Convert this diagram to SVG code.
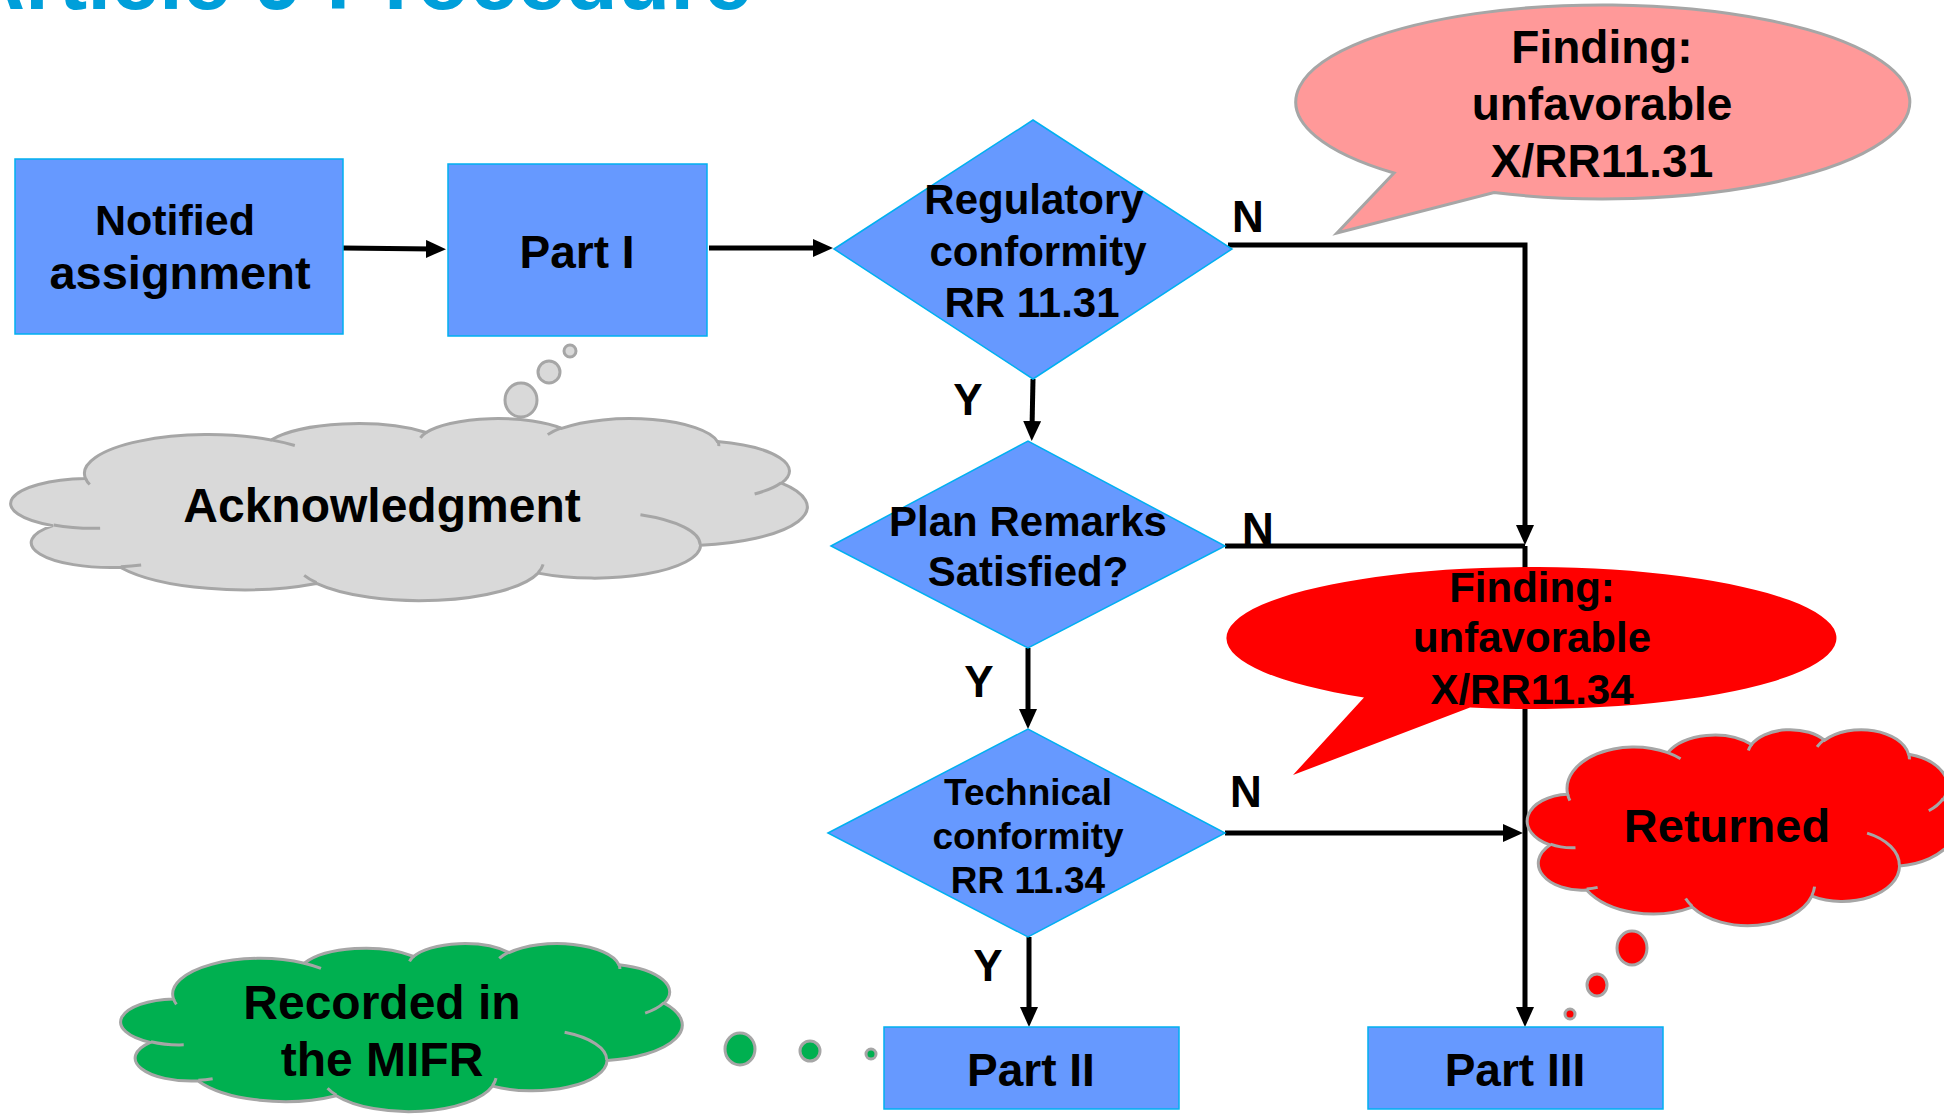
<svg xmlns="http://www.w3.org/2000/svg" width="1944" height="1118" viewBox="0 0 1944 1118">
<style>
.t{font-family:"Liberation Sans",Arial,sans-serif;font-weight:bold;fill:#000;text-anchor:middle}
.title{font-family:"Liberation Sans",Arial,sans-serif;font-weight:bold;fill:#009FDA;font-size:86px}
.box{fill:#6699FF;stroke:#00B0F0;stroke-width:1.5}
.con{fill:none;stroke:#000;stroke-width:5}
.arr{marker-end:url(#ah)}
.cg{fill:#D9D9D9;stroke:#A6A6A6;stroke-width:3}
.cr{fill:#FF0000;stroke:#A6A6A6;stroke-width:3}
.cgr{fill:#00B050;stroke:#A6A6A6;stroke-width:3}
.inner{fill:none;stroke:#A6A6A6;stroke-width:3}
.pink{fill:#FF9999;stroke:#A6A6A6;stroke-width:3}
.red{fill:#FF0000;stroke:none}
</style>
<defs>
<marker id="ah" markerUnits="userSpaceOnUse" markerWidth="20" markerHeight="18" refX="7" refY="9" orient="auto">
<path d="M0,0 L20,9 L0,18 Z" fill="#000"/>
</marker>
<path id="cloudOut" vector-effect="non-scaling-stroke" d="M3900 14370 A6753 9190 0 0 1 14005.6 5202.5 A5333 7267 0 0 1 22456.7 3432.4 A4365 5945 0 0 1 29833.8 2481.6 A4857 6595 0 0 1 38319 5576.8 A5333 7273 0 0 1 41818.5 15460.2 A6775 9220 0 0 1 37404.8 30203.9 A5785 7867 0 0 1 28556.3 36814.1 A6752 9215 0 0 1 16481 39266 A7720 10543 0 0 1 5807.1 35471.8 A4360 5918 0 0 1 2116 25550 A4345 5945 0 0 1 3900 14370 Z"/>
<path id="cloudIn" vector-effect="non-scaling-stroke" d="M4693 26177 A4345 5945 0 0 1 2159.6 25379.9 M6928 34899 A4360 5918 0 0 1 5819.5 35280.5 M16478 39090 A6752 9215 0 0 1 15809.6 37348.1 M28827 34751 A6752 9215 0 0 1 28560.4 36660 M34129 22954 A5785 7867 0 0 1 37380.7 30089.8 M41798 15354 A5333 7273 0 0 1 40350.4 18029.5 M38324 5426 A4857 6595 0 0 1 38400.4 6689.6 M29078 3952 A4857 6595 0 0 1 29819.6 2340.5 M22141 4720 A4365 5945 0 0 1 22500.3 3329.7 M14000 5192 A6753 9190 0 0 1 15299.6 6540.5 M4127 15789 A6753 9190 0 0 1 3900.2 14369.7"/>
</defs>
<rect width="1944" height="1118" fill="#fff"/>
<text class="title" x="-37" y="9">Article 9 Procedure</text>

<g id="connectors">
<line class="con arr" x1="343" y1="248" x2="433" y2="249"/>
<line class="con arr" x1="709" y1="248" x2="820" y2="248"/>
<polyline class="con arr" points="1228,245 1525,245 1525,532"/>
<line class="con arr" x1="1033" y1="379" x2="1032" y2="428"/>
<line class="con" x1="1225" y1="546" x2="1525" y2="546"/>
<line class="con arr" x1="1028" y1="648" x2="1028" y2="716"/>
<line class="con arr" x1="1525" y1="546" x2="1525" y2="1014"/>
<line class="con arr" x1="1225" y1="833" x2="1510" y2="833"/>
<line class="con arr" x1="1029" y1="937" x2="1029" y2="1014"/>
<text class="t" x="1248" y="232" font-size="44">N</text>
<text class="t" x="968" y="415" font-size="44">Y</text>
<text class="t" x="1258" y="544" font-size="44">N</text>
<text class="t" x="979" y="697" font-size="44">Y</text>
<text class="t" x="1246" y="807" font-size="44">N</text>
<text class="t" x="988" y="981" font-size="44">Y</text>
</g>

<g id="notified">
<rect class="box" x="15" y="159" width="328" height="175"/>
<text class="t" x="175" y="235" font-size="43">Notified</text>
<text class="t" x="180" y="289" font-size="47">assignment</text>
</g>
<g id="part1">
<rect class="box" x="448" y="164" width="259" height="172"/>
<text class="t" x="577" y="268" font-size="46">Part I</text>
</g>
<g id="regulatory">
<polygon class="box" points="834,249 1033,120 1232,249 1033,379"/>
<text class="t" x="1034" y="214" font-size="42">Regulatory</text>
<text class="t" x="1038" y="266" font-size="42">conformity</text>
<text class="t" x="1032" y="317" font-size="42">RR 11.31</text>
</g>
<g id="planremarks">
<polygon class="box" points="831,546 1028,441 1225,546 1028,648"/>
<text class="t" x="1028" y="536" font-size="42">Plan Remarks</text>
<text class="t" x="1028" y="586" font-size="42">Satisfied?</text>
</g>
<g id="technical">
<polygon class="box" points="828,833 1028,729 1225,833 1028,937"/>
<text class="t" x="1028" y="805" font-size="37">Technical</text>
<text class="t" x="1028" y="849" font-size="37">conformity</text>
<text class="t" x="1028" y="893" font-size="37">RR 11.34</text>
</g>
<g id="part2">
<rect class="box" x="884" y="1027" width="295" height="82"/>
<text class="t" x="1031" y="1086" font-size="46">Part II</text>
</g>
<g id="part3">
<rect class="box" x="1368" y="1027" width="295" height="82"/>
<text class="t" x="1515" y="1086" font-size="46">Part III</text>
</g>

<g id="acknowledgment">
<ellipse class="cg" cx="570" cy="351" rx="6" ry="6"/>
<ellipse class="cg" cx="549" cy="372" rx="11" ry="11"/>
<ellipse class="cg" cx="521" cy="400" rx="16" ry="17"/>
<g transform="translate(14,418) scale(0.018355,0.004213)">
<use href="#cloudOut" class="cg"/>
<use href="#cloudIn" class="inner"/>
</g>
<text class="t" x="382" y="522" font-size="48">Acknowledgment</text>
</g>

<g id="recorded">
<ellipse class="cgr" cx="740" cy="1049" rx="15" ry="16"/>
<ellipse class="cgr" cx="810" cy="1051" rx="10" ry="10"/>
<ellipse class="cgr" cx="871" cy="1054" rx="5" ry="5"/>
<g transform="translate(123,943) scale(0.01294,0.003889)">
<use href="#cloudOut" class="cgr"/>
<use href="#cloudIn" class="inner"/>
</g>
<text class="t" x="382" y="1019" font-size="48">Recorded in</text>
<text class="t" x="382" y="1076" font-size="48">the MIFR</text>
</g>

<g id="returned">
<ellipse class="cr" cx="1632" cy="948" rx="15" ry="17"/>
<ellipse class="cr" cx="1597" cy="985" rx="10" ry="11"/>
<ellipse class="cr" cx="1570" cy="1014" rx="5" ry="5"/>
<g transform="translate(1529,729) scale(0.009907,0.004537)">
<use href="#cloudOut" class="cr"/>
<use href="#cloudIn" class="inner"/>
</g>
<text class="t" x="1727" y="842" font-size="47">Returned</text>
</g>

<g id="finding1131">
<path class="pink" d="M1394 173 L1337 233 L1494 192.6 A307 97 0 1 0 1394 173 Z"/>
<text class="t" x="1602" y="63" font-size="46">Finding:</text>
<text class="t" x="1602" y="120" font-size="46">unfavorable</text>
<text class="t" x="1602" y="177" font-size="46">X/RR11.31</text>
</g>

<g id="finding1134">
<path class="red" d="M1364 697.4 L1293 775 L1470 707.6 A305 71 0 1 0 1364 697.4 Z"/>
<text class="t" x="1532" y="602" font-size="42">Finding:</text>
<text class="t" x="1532" y="652" font-size="42">unfavorable</text>
<text class="t" x="1532" y="704" font-size="42">X/RR11.34</text>
</g>
</svg>
